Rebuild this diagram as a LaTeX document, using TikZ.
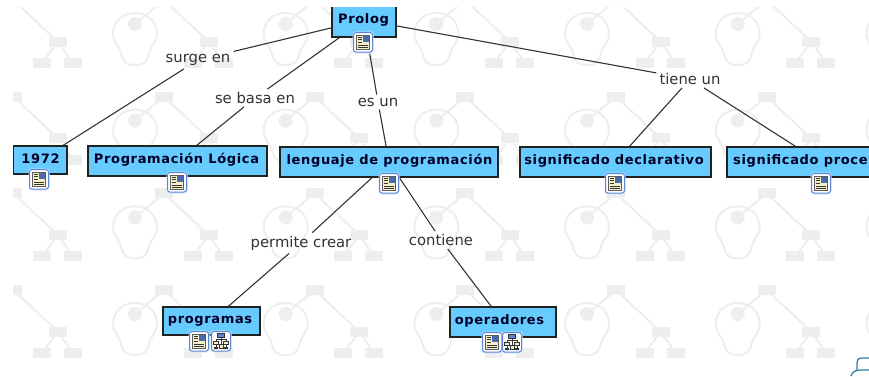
\documentclass[tikz,border=0pt]{standalone}
\usepackage{fontspec}
\setmainfont{DejaVu Sans}
\newfontfamily\boxfont[LetterSpace=5]{DejaVu Sans Bold}
\definecolor{wm}{HTML}{EEEEEE}
\definecolor{boxblue}{HTML}{66CCFF}
\definecolor{ink}{HTML}{333333}
\definecolor{boxedge}{HTML}{222222}
\definecolor{iconedge}{HTML}{5B86D6}
\definecolor{halo}{HTML}{DCE8FA}
\definecolor{paper}{HTML}{F5F0C8}
\definecolor{corner}{HTML}{2A7FA8}
\newcommand{\wmtile}[2]{%
  \begin{scope}[shift={(#1,#2)}]
    \draw[wm,line width=2pt] (13.3,0) -- (58,41.7) (42,63) -- (58,41.7) -- (73,63);
    \draw[wm,line width=2pt] (164,0) -- (135,24);
    \draw[wm,line width=2pt] (135,13) .. controls (122,13) and (113,22) .. (113,34)
      .. controls (113,42) and (119,46) .. (121,53) .. controls (123,62) and (126,65) .. (135,65)
      .. controls (144,65) and (147,62) .. (149,53) .. controls (151,46) and (157,42) .. (157,34)
      .. controls (157,22) and (148,13) .. (135,13) -- cycle;
    \fill[wm] (135,24) circle (7);
    \fill[wm] (49,36.7) rectangle (67,46.7);
    \fill[wm] (33,58) rectangle (51,68);
    \fill[wm] (64,58) rectangle (82,68);
    \fill[wm] (155,-5) rectangle (173,5);
    \fill[wm] (13.3,-5) rectangle (22,5);
  \end{scope}}
\newcommand{\docicon}[2]{%
  \begin{scope}[shift={(#1,#2)}]
    \fill[halo,rounded corners=3pt] (-10.5,-10.5) rectangle (10.5,11.5);
    \draw[iconedge,line width=1pt,fill=white,rounded corners=2.5pt] (-9.5,-9.5) rectangle (9.5,10);
    \draw[ink!80!white,line width=.9pt,fill=paper] (-6.5,-7) rectangle (6.5,7.5);
    \fill[iconedge!80!black] (0,-6) rectangle (5.5,0);
    \draw[ink,line width=.7pt] (-5,-5) -- (-1.5,-5) (-5,-2.5) -- (-1.5,-2.5) (-5,0) -- (-1.5,0) (-5,3) -- (5,3) (-5,5.5) -- (5,5.5);
  \end{scope}}
\newcommand{\mapicon}[2]{%
  \begin{scope}[shift={(#1,#2)}]
    \fill[halo,rounded corners=3pt] (-10.5,-10.5) rectangle (10.5,11.5);
    \draw[iconedge,line width=1pt,fill=white,rounded corners=2.5pt] (-9.5,-9.5) rectangle (9.5,10);
    \draw[ink,line width=.8pt] (0,-4) -- (0,3) (-5,0) -- (-5,-2) -- (5,-2) -- (5,0);
    \draw[ink,line width=.7pt,fill=iconedge] (-3.5,-7.5) rectangle (3.5,-4);
    \draw[ink,line width=.7pt,fill=paper] (-7.5,0) rectangle (-2.5,3.5) (-2,3) rectangle (2,7) (2.5,0) rectangle (7.5,3.5);
    \draw[ink,line width=.8pt] (-5,3.5) -- (-5,7) (5,3.5) -- (5,7);
    \fill[ink] (-7,6) rectangle (-3,8) (3,6) rectangle (7,8);
  \end{scope}}
\tikzset{
  concept/.style={draw=boxedge,line width=1.2pt,fill=boxblue,inner sep=0pt,minimum height=30pt,anchor=center},
  conceptText/.style={anchor=base,inner sep=0pt,text=black!85!blue,font=\boxfont\fontsize{13}{15}\selectfont},
  linklabel/.style={inner sep=3pt,text=ink,font=\fontsize{14.8}{17}\selectfont},
  link/.style={draw=ink,line width=1.1pt},
}
\begin{document}
\begin{tikzpicture}[x=1pt,y=-1pt]
\useasboundingbox (0,0) rectangle (869,376);
\fill[white] (0,0) rectangle (869,376);
\foreach \k in {0,...,5}{\foreach \l in {0,...,3}{\wmtile{150.67*\k}{96.67*\l}}}

\node[concept,minimum width=64pt,minimum height=34pt] (prolog) at (364,20) {};
\node[concept,minimum width=54pt,minimum height=28pt] (y1972) at (40,160) {};
\node[concept,minimum width=179pt] (logica) at (177.5,161) {};
\node[concept,minimum width=218pt] (lenguaje) at (389,162) {};
\node[concept,minimum width=191pt] (decl) at (615.5,162) {};
\node[concept,minimum width=186pt] (proc) at (820,162) {};
\node[concept,minimum width=97pt,minimum height=28pt] (programas) at (211.5,321) {};
\node[concept,minimum width=106pt] (operadores) at (503,322) {};

\node[linklabel] (surge) at (198,60) {surge en};
\node[linklabel] (basa) at (255,98) {se basa en};
\node[linklabel] (esun) at (378,102) {es un};
\node[linklabel] (tiene) at (690,79) {tiene un};
\node[linklabel] (permite) at (301,243) {permite crear};
\node[linklabel] (contiene) at (441,240) {contiene};

\draw[link] (prolog) -- (surge);
\draw[link] (surge) -- (y1972);
\draw[link] (prolog) -- (basa);
\draw[link] (basa) -- (logica);
\draw[link] (prolog) -- (esun);
\draw[link] (esun) -- (lenguaje);
\draw[link] (prolog) -- (tiene);
\draw[link] (tiene) -- (decl);
\draw[link] (tiene) -- (proc);
\draw[link] (lenguaje) -- (permite);
\draw[link] (permite) -- (programas);
\draw[link] (lenguaje) -- (contiene);
\draw[link] (contiene) -- (operadores);

\docicon{363}{42}\docicon{39}{179}\docicon{177}{182}\docicon{389}{183}
\docicon{615}{183}\docicon{821}{183}\docicon{199}{341}\mapicon{221}{341}
\docicon{492}{342}\mapicon{512}{342}

\node[conceptText] (tprolog) at (363.5,23.5) {Prolog};
\node[conceptText] (t1972) at (40.5,163.5) {1972};
\node[conceptText] (tlogica) at (176.5,163.5) {Programación Lógica};
\node[conceptText] (tlen) at (389.5,164) {lenguaje de programación};
\node[conceptText] (tdecl) at (614,164) {significado declarativo};
\node[conceptText,anchor=base west] (tproc) at (733,164) {significado proce};
\node[conceptText] (tprog) at (210,323) {programas};
\node[conceptText] (tope) at (499.5,324) {operadores};

\draw[corner,line width=1.3pt] (869,358) -- (861,358) .. controls (858,358) and (857,360) .. (857,363) -- (857,370);
\draw[corner,line width=1.3pt] (851,376) .. controls (852,372) and (856,370) .. (860,370) -- (869,370);

\fill[white] (0,0) rectangle (13,376);
\fill[white] (0,0) rectangle (869,7);
\end{tikzpicture}
\end{document}
